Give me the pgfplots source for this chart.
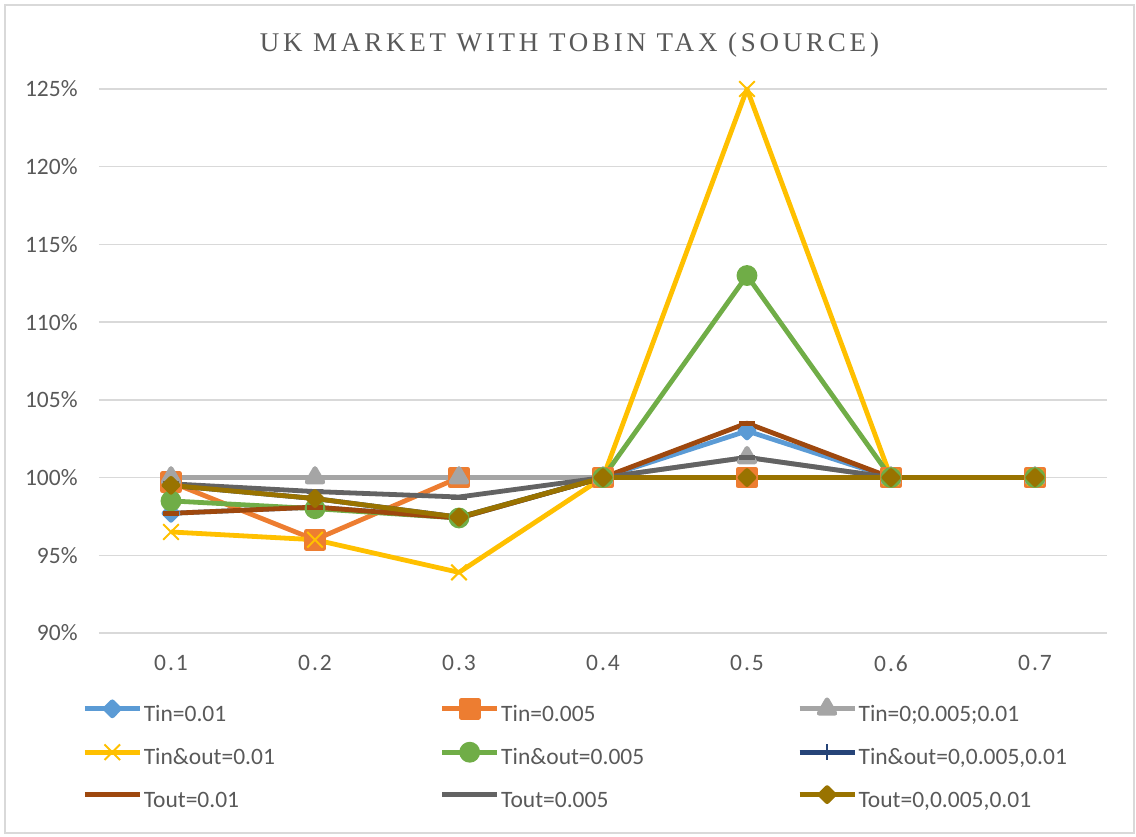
\documentclass[border=0pt]{standalone}
\usepackage{fontspec}
\setmainfont{Carlito}
\newfontfamily\titlefont[LetterSpace=14]{Liberation Serif}
\newfontfamily\xtickfont[LetterSpace=8]{Carlito}
\usepackage{pgfplots}
\pgfplotsset{compat=1.18}
\definecolor{cBlue}{HTML}{5B9BD5}
\definecolor{cOrange}{HTML}{ED7D31}
\definecolor{cGray}{HTML}{A5A5A5}
\definecolor{cYellow}{HTML}{FFC000}
\definecolor{cGreen}{HTML}{70AD47}
\definecolor{cDBlue}{HTML}{264478}
\definecolor{cBrown}{HTML}{9E480E}
\definecolor{cDGray}{HTML}{636363}
\definecolor{cOlive}{HTML}{997300}
\definecolor{cGrid}{HTML}{D9D9D9}
\definecolor{cText}{HTML}{595959}
\begin{document}
\begin{tikzpicture}
\useasboundingbox (-49.5pt,-101.5pt) rectangle (518.5pt,316.5pt);
\draw[cGrid, line width=0.75pt] (-47pt,-100pt) rectangle (517.5pt,314pt);
\begin{axis}[
  at={(0pt,0pt)}, anchor=south west,
  width=504pt, height=272pt, scale only axis,
  xmin=0.5, xmax=7.5, ymin=90, ymax=125,
  xtick={1,2,3,4,5,6,7},
  xticklabels={0.1,0.2,0.3,0.4,0.5,0.6,0.7},
  ytick={90,95,100,105,110,115,120,125},
  yticklabels={90\%,95\%,100\%,105\%,110\%,115\%,120\%,125\%},
  font=\fontsize{11.75pt}{14pt}\selectfont\color{cText},
  xticklabel style={font=\fontsize{11.75pt}{14pt}\selectfont\xtickfont\color{cText}, anchor=north, inner sep=0pt, yshift=-11pt},
  yticklabel style={anchor=east, inner sep=0pt, xshift=-10.5pt},
  major tick length=0pt,
  ymajorgrids, grid style={cGrid, line width=0.75pt},
  axis x line*=bottom, axis y line*=left,
  x axis line style={cGrid, line width=0.75pt, -},
  y axis line style={draw=none},
  clip=false,
  every axis plot/.append style={line width=2.4pt, line join=round},
  legend columns=3,
  legend cell align=left,
  legend style={at={(-0.01687,-0.1221)}, anchor=north west, draw=none, fill=none,
    inner sep=0pt, row sep=8.5pt,
    font=\fontsize{11.75pt}{14pt}\selectfont\color{cText},
    nodes={inner sep=0pt, text height=8pt, text depth=3pt},
    /tikz/every odd column/.style={column sep=0.8pt},
    /tikz/every even column/.style={column sep=0pt}},
  legend image code/.code={\draw[#1, mark repeat=2, mark phase=2] plot coordinates {(0pt,3.7pt) (13.75pt,3.7pt) (27.5pt,3.7pt)};},
]
% Tin=0.01
\addplot[cBlue, mark=diamond*, mark size=3.5pt, mark options={xscale=1.33, solid}] coordinates {(1,97.7) (2,98.1) (3,97.4) (4,100) (5,103.0) (6,100) (7,100)};
\addlegendentry{\makebox[148pt][l]{Tin=0.01}}
% Tin=0.005
\addplot[cOrange, mark=square*, mark size=4.25pt] coordinates {(1,99.7) (2,96.0) (3,100) (4,100) (5,100) (6,100) (7,100)};
\addlegendentry{\makebox[148pt][l]{Tin=0.005}}
% Tin=0;0.005;0.01
\addplot[cGray, mark=triangle*, mark size=4.5pt] coordinates {(1,100) (2,100) (3,100) (4,100) (5,101.3) (6,100) (7,100)};
\addlegendentry{Tin=0;0.005;0.01}
% Tin&out=0.01
\addplot[cYellow, mark=x, mark size=5.5pt, mark options={line width=1pt}] coordinates {(1,96.5) (2,96.0) (3,93.9) (4,100) (5,125) (6,100) (7,100)};
\addlegendentry{\makebox[148pt][l]{Tin\&out=0.01}}
% Tin&out=0.005
\addplot[cGreen, mark=*, mark size=4pt] coordinates {(1,98.5) (2,98.0) (3,97.4) (4,100) (5,113.0) (6,100) (7,100)};
\addlegendentry{\makebox[148pt][l]{Tin\&out=0.005}}
% Tin&out=0,0.005,0.01
\addplot[cDBlue, mark=|, mark size=4pt, mark options={line width=1pt}] coordinates {(1,99.5) (2,98.65) (3,97.45) (4,100) (5,100) (6,100) (7,100)};
\addlegendentry{Tin\&out=0,0.005,0.01}
% Tout=0.01
\addplot[cBrown, mark=-, mark size=4pt, mark options={line width=2.5pt}] coordinates {(1,97.7) (2,98.1) (3,97.4) (4,100) (5,103.5) (6,100) (7,100)};
\addlegendentry{\makebox[148pt][l]{Tout=0.01}}
% Tout=0.005
\addplot[cDGray, mark=-, mark size=4pt, mark options={line width=2.5pt}] coordinates {(1,99.6) (2,99.1) (3,98.75) (4,100) (5,101.3) (6,100) (7,100)};
\addlegendentry{\makebox[148pt][l]{Tout=0.005}}
% Tout=0,0.005,0.01
\addplot[cOlive, mark=diamond*, mark size=3.5pt, mark options={xscale=1.33}] coordinates {(1,99.5) (2,98.65) (3,97.45) (4,100) (5,100) (6,100) (7,100)};
\addlegendentry{Tout=0,0.005,0.01}
\end{axis}
\node[anchor=base, text=cText, font=\fontsize{13.5pt}{16pt}\selectfont\titlefont, inner sep=0pt] at (235.25pt,290.5pt) {UK MARKET WITH TOBIN TAX (SOURCE)};
\end{tikzpicture}
\end{document}
